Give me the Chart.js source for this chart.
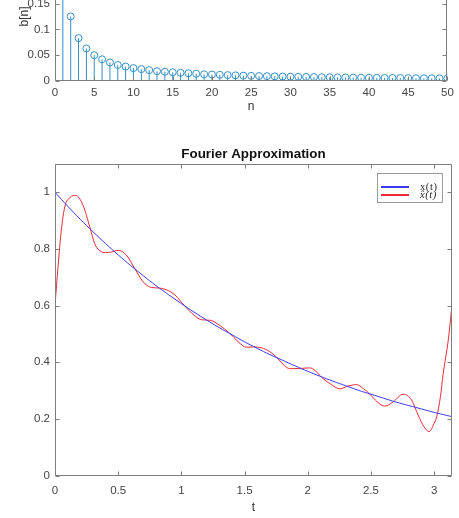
<!DOCTYPE html>
<html>
<head>
<meta charset="utf-8">
<script src="https://cdn.jsdelivr.net/npm/chart.js@4/dist/chart.umd.min.js"></script>
<style>
  html,body{margin:0;padding:0;background:#fff;width:459px;height:518px;overflow:hidden;position:relative;}
  canvas{position:absolute;left:0;}
  #c1{top:-60px;}
  #c2{top:130px;}
  #legend{position:absolute;left:377px;top:173px;width:66px;height:30px;}
  .lg-text{position:absolute;left:43px;font-family:'Liberation Serif','DejaVu Serif',serif;font-size:10.5px;line-height:10px;letter-spacing:0.6px;color:#222;white-space:nowrap;}
</style>
</head>
<body>
<canvas id="c1" width="459" height="180"></canvas>
<canvas id="c2" width="459" height="388"></canvas>
<div id="legend"></div>
<script>
// ---------- data ----------
const stemN = [1,2,3,4,5,6,7,8,9,10,11,12,13,14,15,16,17,18,19,20,21,22,23,24,25,
               26,27,28,29,30,31,32,33,34,35,36,37,38,39,40,41,42,43,44,45,46,47,48,49,50];
const stemB = [0.24,0.125,0.083,0.063,0.050,0.042,0.036,0.031,0.028,0.025,0.023,0.021,0.019,0.018,0.017,
               0.016,0.015,0.014,0.013,0.0125,0.012,0.0114,0.0109,0.0104,0.0100,0.0096,0.0093,0.0089,0.0086,0.0083,
               0.0081,0.0078,0.0076,0.0074,0.0071,0.0069,0.0068,0.0066,0.0064,0.0063,0.0061,0.0060,0.0058,0.0057,0.0056,
               0.0054,0.0053,0.0052,0.0051,0.0050];

const xT = [0,0.1,0.2,0.3,0.4,0.5,0.6,0.7,0.8,0.9,1.0,1.1,1.2,1.3,1.4,1.5,1.6,1.7,1.8,1.9,2.0,
            2.1,2.2,2.3,2.4,2.5,2.6,2.7,2.8,2.9,3.0,3.1,3.1416];
const xV = [1.0,0.951,0.905,0.861,0.819,0.779,0.741,0.705,0.670,0.638,0.607,0.577,0.549,0.522,0.497,0.472,
            0.449,0.427,0.407,0.387,0.368,0.350,0.333,0.317,0.301,0.287,0.273,0.259,0.247,0.235,0.223,0.212,0.208];

const hatT = [0,0.024,0.05,0.077,0.12,0.164,0.222,0.275,0.314,0.35,0.40,0.446,0.50,0.565,0.631,0.697,0.763,0.824,
              0.90,0.95,1.024,1.10,1.16,1.23,1.30,1.383,1.45,1.515,1.575,1.634,1.70,1.766,1.81,1.858,1.937,2.017,
              2.06,2.109,2.18,2.254,2.32,2.386,2.44,2.492,2.55,2.61,2.676,2.755,2.822,2.874,2.92,2.961,3.00,3.02,
              3.05,3.072,3.112,3.1416];
const hatV = [0.601,0.737,0.866,0.948,0.982,0.989,0.954,0.878,0.819,0.795,0.787,0.789,0.795,0.778,0.731,0.684,0.664,0.662,
              0.652,0.637,0.600,0.566,0.550,0.548,0.531,0.502,0.472,0.453,0.454,0.451,0.437,0.412,0.390,0.377,0.378,0.380,
              0.370,0.347,0.323,0.306,0.316,0.321,0.307,0.287,0.260,0.245,0.260,0.287,0.266,0.213,0.172,0.155,0.184,0.207,
              0.278,0.360,0.478,0.601];

const seriesNames = ['x(t)', 'x\u0302(t)'];
const seriesColors = ['#3a3af0', '#ee2a36'];
const titleText = 'Fourier Approximation';

// ---------- helpers ----------
const FONT = "'Liberation Sans', Arial, sans-serif";
const TICK_SIZE = 11.5;
const fmt = v => String(+Number(v).toFixed(4));

const boxPlugin = {
  id: 'matlabBox',
  afterDraw(chart) {
    const {ctx, chartArea: a, scales: {x, y}} = chart;
    ctx.save();
    ctx.strokeStyle = '#7d7d7d';
    ctx.lineWidth = 1;
    const L = Math.round(a.left) + 0.5, R = Math.round(a.right) - 0.5;
    const T = Math.round(a.top) + 0.5, B = Math.round(a.bottom) - 0.5;
    ctx.beginPath();
    ctx.moveTo(L, T); ctx.lineTo(L, B); ctx.lineTo(R, B); ctx.lineTo(R, T); ctx.lineTo(L, T);
    x.ticks.forEach(t => {
      const px = Math.round(x.getPixelForValue(t.value)) + 0.5;
      ctx.moveTo(px, B); ctx.lineTo(px, B - 4);
      ctx.moveTo(px, T); ctx.lineTo(px, T + 4);
    });
    y.ticks.forEach(t => {
      const py = Math.round(y.getPixelForValue(t.value)) + 0.5;
      ctx.moveTo(L, py); ctx.lineTo(L + 4, py);
      ctx.moveTo(R, py); ctx.lineTo(R - 4, py);
    });
    ctx.stroke();
    ctx.restore();
  }
};

// legend frame + sample lines drawn on the canvas (texts are HTML)
const legendPlugin = {
  id: 'legendBox',
  afterDraw(chart) {
    const ctx = chart.ctx;
    const bx = 377.5, by = 43.5, bw = 65, bh = 29;
    ctx.save();
    ctx.fillStyle = '#fff';
    ctx.fillRect(bx, by, bw, bh);
    ctx.strokeStyle = '#9a9a9a';
    ctx.lineWidth = 1;
    ctx.strokeRect(bx, by, bw, bh);
    ctx.lineWidth = 2;
    chart.data.datasets.forEach((ds, i) => {
      const yy = 57 + i * 8;
      ctx.strokeStyle = ds.borderColor;
      ctx.beginPath();
      ctx.moveTo(381, yy); ctx.lineTo(409, yy);
      ctx.stroke();
    });
    ctx.restore();
  }
};

function xScale(min, max, step, pad, height, title, titlePadBottom) {
  return {
    type: 'linear', min, max,
    grid: {display: false, drawTicks: false, tickLength: 0}, border: {display: false},
    ticks: {stepSize: step, includeBounds: false, padding: pad, color: '#444',
            font: {family: FONT, size: TICK_SIZE}, callback: fmt, maxRotation: 0, autoSkip: false},
    title: {display: true, text: title, color: '#333', font: {family: FONT, size: 12},
            padding: {top: 0, bottom: titlePadBottom}},
    afterFit(s) { s.height = height; }
  };
}
function yScale(min, max, step, title) {
  const o = {
    type: 'linear', min, max,
    grid: {display: false, drawTicks: false, tickLength: 0}, border: {display: false},
    ticks: {stepSize: step, includeBounds: false, padding: 5, color: '#444',
            font: {family: FONT, size: TICK_SIZE}, callback: fmt},
    afterFit(s) { s.width = 55; }
  };
  if (title) o.title = {display: true, text: title, color: '#333', font: {family: FONT, size: 12},
                        padding: {top: 17, bottom: 0}};
  return o;
}

// ---------- top chart: stem plot b[n] ----------
const stemLines = [];
stemN.forEach((n, i) => {
  stemLines.push({x: n, y: 0}, {x: n, y: stemB[i]}, {x: n, y: null});
});
const stemPts = stemN.map((n, i) => ({x: n, y: stemB[i]}));
const stemColor = '#3590c6';

new Chart(document.getElementById('c1'), {
  type: 'line',
  data: {
    datasets: [
      {data: stemLines, borderColor: stemColor, borderWidth: 1, pointRadius: 0, spanGaps: false, tension: 0},
      {data: stemPts, showLine: false, borderColor: stemColor, backgroundColor: 'rgba(0,0,0,0)',
       pointStyle: 'circle', pointRadius: 3.5, pointBorderWidth: 1}
    ]
  },
  options: {
    responsive: false, animation: false, devicePixelRatio: 1,
    layout: {padding: {top: 11, right: 7, left: 0, bottom: 0}},
    plugins: {legend: {display: false}, tooltip: {enabled: false}, title: {display: false}},
    scales: {
      x: xScale(0, 50, 5, 5.2, 39, 'n', 5.8),
      y: yScale(0, 0.25, 0.05, 'b[n]')
    }
  },
  plugins: [boxPlugin]
});

// ---------- bottom chart: Fourier approximation ----------
const xData = xT.map((t, i) => ({x: t, y: xV[i]}));
const hatData = hatT.map((t, i) => ({x: t, y: hatV[i]}));

new Chart(document.getElementById('c2'), {
  type: 'line',
  data: {
    datasets: [
      {label: seriesNames[0], data: xData, borderColor: seriesColors[0], borderWidth: 1, pointRadius: 0, tension: 0.4},
      {label: seriesNames[1], data: hatData, borderColor: seriesColors[1], borderWidth: 1, pointRadius: 0,
       cubicInterpolationMode: 'monotone'}
    ]
  },
  options: {
    responsive: false, animation: false, devicePixelRatio: 1,
    layout: {padding: {top: 0, right: 7, left: 0, bottom: 0}},
    plugins: {
      legend: {display: false}, tooltip: {enabled: false},
      title: {display: true, fullSize: false, text: titleText, color: '#111',
              font: {family: FONT, size: 13.4, weight: 'bold'}, padding: {top: 16.5, bottom: 1.4}}
    },
    scales: {
      x: xScale(0, 3.1416, 0.5, 8.2, 42.5, 't', 3),
      y: yScale(0, 1.1, 0.2, null)
    }
  },
  plugins: [boxPlugin, legendPlugin]
});

// ---------- legend texts (HTML) ----------
const lg = document.getElementById('legend');
const textTops = [9, 17];
seriesNames.forEach((name, i) => {
  const tx = document.createElement('div');
  tx.className = 'lg-text';
  tx.style.top = textTops[i] + 'px';
  if (i === 1) tx.style.fontStyle = 'italic';
  tx.textContent = name;
  lg.appendChild(tx);
});
</script>
</body>
</html>
